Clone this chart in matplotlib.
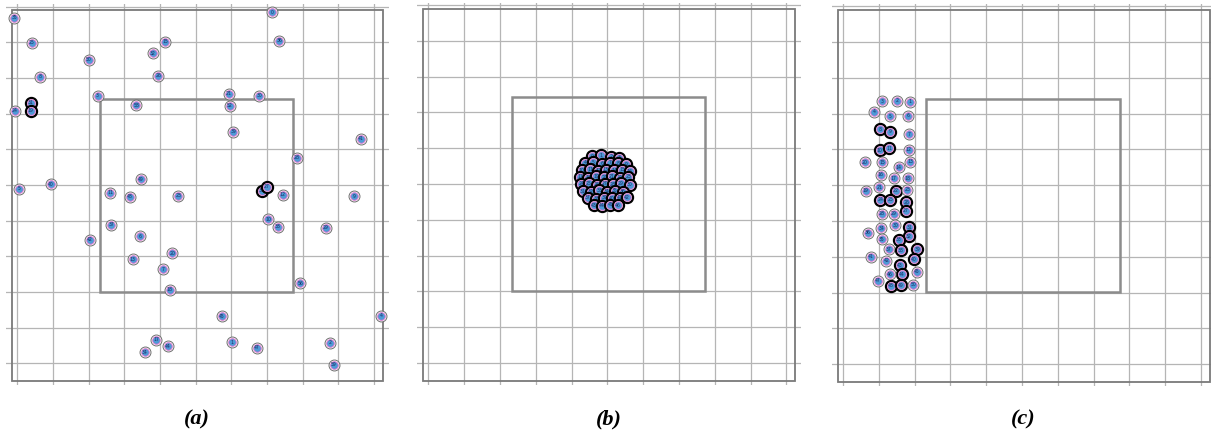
import matplotlib.pyplot as plt

# agent positions in arena units (grid spacing = 1), ids and collision flags
a_x = [-0.08, 0.40, 2.00, 4.15, 3.80, 0.64, 3.95, 2.25, 3.34, -0.07, 0.38, 0.38,
       0.04, 0.94, 2.60, 3.15, 3.47, 4.51, 7.14, 7.35, 5.93, 6.78, 5.95, 6.05,
       9.63, 7.84, 6.85, 7.00, 7.44, 9.45, 2.64, 2.03, 3.43, 3.24, 4.34, 4.08,
       4.27, 3.89, 4.22, 3.58, 7.03, 7.30, 8.65, 7.93, 5.73, 10.20, 6.03, 6.72,
       8.77, 8.88]
a_y = [9.69, 8.98, 8.51, 9.01, 8.69, 8.03, 8.06, 7.50, 7.24, 7.08, 7.31, 7.08,
       4.90, 5.02, 4.78, 4.67, 5.16, 4.70, 9.84, 9.04, 7.55, 7.50, 7.22, 6.49,
       6.29, 5.76, 4.84, 4.95, 4.72, 4.68, 3.89, 3.46, 3.56, 2.92, 3.09, 2.64,
       2.06, 0.66, 0.48, 0.31, 4.04, 3.83, 3.80, 2.25, 1.32, 1.33, 0.59, 0.44,
       0.57, -0.04]
a_id = [35, 25, 50, 15, 32, 8, 26, 3, 58, 24, 31, 19,
        5, 40, 11, 48, 49, 23, 0, 36, 21, 30, 52, 39,
        41, 28, 33, 27, 12, 9, 37, 42, 6, 13, 20, 7,
        18, 17, 44, 34, 10, 38, 29, 56, 45, 4, 1, 47,
        2, 59]
a_hit = [0, 0, 0, 0, 0, 0, 0, 0, 0, 0, 1, 1,
         0, 0, 0, 0, 0, 0, 0, 0, 0, 0, 0, 0,
         0, 0, 1, 1, 0, 0, 0, 0, 0, 0, 0, 0,
         0, 0, 0, 0, 0, 0, 0, 0, 0, 0, 0, 0,
         0, 0]

b_x = [4.57, 4.82, 5.10, 5.33,
       4.37, 4.60, 4.85, 5.08, 5.30, 5.52,
       4.28, 4.52, 4.74, 4.96, 5.19, 5.41, 5.63,
       4.24, 4.46, 4.69, 4.91, 5.13, 5.35, 5.58,
       4.27, 4.49, 4.71, 4.93, 5.16, 5.38, 5.63,
       4.32, 4.54, 4.77, 4.99, 5.21, 5.44,
       4.46, 4.69, 4.91, 5.13, 5.35, 5.55,
       4.63, 4.85, 5.08, 5.30]
b_y = [5.78, 5.80, 5.76, 5.74,
       5.59, 5.61, 5.57, 5.60, 5.58, 5.55,
       5.39, 5.41, 5.37, 5.40, 5.38, 5.40, 5.36,
       5.20, 5.18, 5.22, 5.19, 5.21, 5.18, 5.20,
       5.00, 5.02, 4.98, 5.01, 4.99, 5.02, 4.98,
       4.80, 4.78, 4.82, 4.79, 4.81, 4.79,
       4.61, 4.59, 4.62, 4.60, 4.61, 4.63,
       4.41, 4.39, 4.42, 4.40]
b_id = list(range(len(b_x)))
b_hit = [1] * len(b_x)

c_x = [1.10, 1.52, 1.88, 0.86, 1.32, 1.81, 1.04, 1.31, 1.85, 1.03,
       1.29, 1.84, 0.61, 1.10, 1.56, 1.88, 1.05, 1.42, 1.81, 0.63,
       1.01, 1.47, 1.79, 1.04, 1.32, 1.77, 1.76, 1.09, 1.42, 1.46,
       1.85, 1.84, 1.56, 1.07, 1.08, 0.70, 1.28, 1.61, 2.08, 1.97,
       0.77, 1.21, 1.58, 1.64, 2.06, 1.31, 0.98, 1.33, 1.61, 1.96]
c_y = [7.35, 7.36, 7.34, 7.05, 6.93, 6.94, 6.56, 6.50, 6.42, 5.98,
       6.03, 5.99, 5.64, 5.64, 5.51, 5.66, 5.29, 5.20, 5.20, 4.85,
       4.94, 4.85, 4.88, 4.59, 4.59, 4.53, 4.29, 4.20, 4.20, 3.89,
       3.83, 3.58, 3.48, 3.80, 3.49, 3.68, 3.21, 3.19, 3.21, 2.94,
       3.01, 2.89, 2.77, 2.52, 2.58, 2.52, 2.34, 2.20, 2.21, 2.22]
c_id = [3, 2, 1, 4, 5, 6, 8, 9, 7, 10,
        11, 12, 20, 15, 14, 13, 16, 17, 18, 19,
        21, 22, 23, 24, 25, 26, 27, 28, 29, 30,
        31, 32, 33, 34, 35, 36, 37, 38, 39, 40,
        41, 42, 43, 44, 45, 46, 47, 48, 49, 50]
c_hit = [0, 0, 0, 0, 0, 0, 1, 1, 0, 1,
         1, 0, 0, 0, 0, 0, 0, 0, 0, 0,
         0, 1, 0, 1, 1, 1, 1, 0, 0, 0,
         1, 1, 1, 0, 0, 0, 0, 1, 1, 1,
         0, 0, 1, 1, 0, 0, 0, 1, 1, 0]

captions = ['(a)', '(b)', '(c)']

# where world (0, 0) sits in each panel (figure pixels) and pixels per unit
origins = [(17.3, 363.3, 35.67), (428.3, 363.0, 35.8), (843.0, 364.3, 35.8)]

W, H = 1211, 432
XLIM = (-0.32, 10.42)
YLIM = (-0.62, 10.06)
ARENA = (-0.15, -0.49, 10.39, 10.39)   # x0, y0, w, h
GOAL = (2.33, 2.01, 5.41, 5.41)

fig = plt.figure(figsize=(W / 100, H / 100), dpi=100)


def draw_agents(ax, xs, ys, ids, hits):
    for k, (x, y, n, h) in enumerate(zip(xs, ys, ids, hits)):
        z = 5 + 0.01 * k
        if h:
            ax.scatter(x, y, s=64, facecolor='white', edgecolor='black',
                       linewidth=1.6, zorder=z)
        else:
            ax.scatter(x, y, s=62, facecolor='white', edgecolor='#6e6e6e',
                       linewidth=0.7, zorder=z)
        ax.scatter(x, y, s=30, facecolor='#4d9ad6', edgecolor='#dc78cf',
                   linewidth=0.7, zorder=z + 0.001)
        ax.text(x, y, str(n), fontsize=3.3, color='#1c2a66', ha='center',
                va='center', zorder=z + 0.002)


panels = [(a_x, a_y, a_id, a_hit), (b_x, b_y, b_id, b_hit), (c_x, c_y, c_id, c_hit)]

for i, (gx, gy, s) in enumerate(origins):
    left = gx + s * XLIM[0]
    top = gy - s * YLIM[1]
    w = s * (XLIM[1] - XLIM[0])
    h = s * (YLIM[1] - YLIM[0])
    ax = fig.add_axes([left / W, 1 - (top + h) / H, w / W, h / H])
    ax.set_xlim(*XLIM)
    ax.set_ylim(*YLIM)
    ax.axis('off')

    for v in range(11):
        ax.axvline(v, color='#b5b5b5', linewidth=0.9, zorder=1)
        ax.axhline(v, color='#b5b5b5', linewidth=0.9, zorder=1)

    ax.add_patch(plt.Rectangle(ARENA[:2], ARENA[2], ARENA[3], fill=False,
                               edgecolor='#7a7a7a', linewidth=1.3, zorder=2))
    ax.add_patch(plt.Rectangle(GOAL[:2], GOAL[2], GOAL[3], fill=False,
                               edgecolor='#8c8c8c', linewidth=1.8, zorder=2))

    draw_agents(ax, *panels[i])

    fig.text((gx + s * 5.03) / W, 1 - 419 / H, captions[i], fontsize=16,
             fontweight='bold', fontstyle='italic', family='Liberation Serif',
             ha='center', va='center')

fig.savefig('out.png', dpi=100)
